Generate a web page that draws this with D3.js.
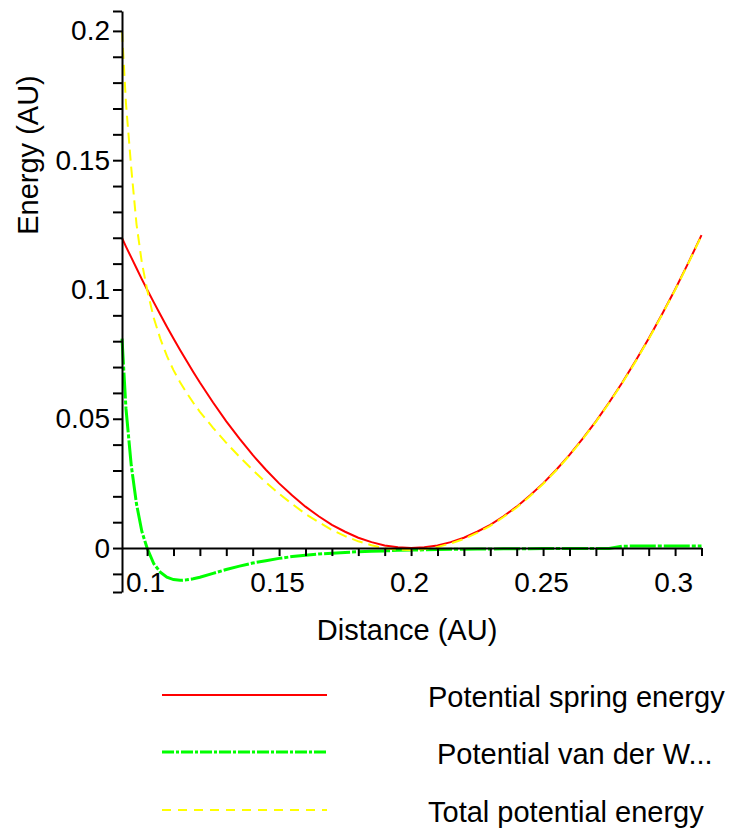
<!DOCTYPE html>
<html>
<head>
<meta charset="utf-8">
<script src="https://cdn.jsdelivr.net/npm/d3@7"></script>
<style>
  html, body { margin: 0; padding: 0; background: #fff; }
  svg { display: block; }
  text { font-family: "Liberation Sans", Arial, sans-serif; fill: #000; }
</style>
</head>
<body>
<svg id="chart" width="731" height="832"></svg>
<script>
// ---- data ----
const distance = [0.0905, 0.092, 0.094, 0.096, 0.098, 0.100, 0.1025, 0.105, 0.1075, 0.110, 0.1125, 0.115, 0.1175, 0.120,
  0.125, 0.130, 0.135, 0.140, 0.145, 0.150, 0.155, 0.160, 0.165, 0.170, 0.175, 0.180, 0.185, 0.190, 0.195, 0.200,
  0.205, 0.210, 0.215, 0.220, 0.225, 0.230, 0.235, 0.240, 0.245, 0.250, 0.255, 0.260, 0.265, 0.270, 0.275, 0.280,
  0.285, 0.290, 0.295, 0.300, 0.305, 0.310];

const springEnergy = [0.1199, 0.1166, 0.1124, 0.1082, 0.1040, 0.1000, 0.0951, 0.0903, 0.0856, 0.0810, 0.0766, 0.0723, 0.0681, 0.0640,
  0.0563, 0.0490, 0.0423, 0.0360, 0.0303, 0.0250, 0.0203, 0.0160, 0.0123, 0.0090, 0.0063, 0.0040, 0.0023, 0.0010, 0.0003, 0.0000,
  0.0003, 0.0010, 0.0023, 0.0040, 0.0063, 0.0090, 0.0123, 0.0160, 0.0203, 0.0250, 0.0303, 0.0360, 0.0423, 0.0490, 0.0563, 0.0640,
  0.0723, 0.0810, 0.0903, 0.1000, 0.1103, 0.1210];

const vdwEnergy = [0.0810, 0.0540, 0.0320, 0.0170, 0.0065, 0.0000, -0.0060, -0.0093, -0.0113, -0.0122, -0.0125, -0.0123, -0.0119, -0.0113,
  -0.0098, -0.0083, -0.0070, -0.0058, -0.0049, -0.0040, -0.0033, -0.0028, -0.0023, -0.0020, -0.0017, -0.0014, -0.0012, -0.0011, -0.0009, -0.0008,
  -0.0007, -0.0006, -0.0005, -0.0005, -0.0004, -0.0004, -0.0003, -0.0003, -0.0003, -0.0002, -0.0002, -0.0002, -0.0002, -0.0002, -0.0002, 0.0007,
  0.0008, 0.0008, 0.0008, 0.0008, 0.0008, 0.0008];

const totalEnergy = [0.2000, 0.1720, 0.1470, 0.1252, 0.1105, 0.1000, 0.0891, 0.0810, 0.0743, 0.0688, 0.0641, 0.0600, 0.0562, 0.0527,
  0.0465, 0.0407, 0.0353, 0.0302, 0.0254, 0.0210, 0.0170, 0.0132, 0.0100, 0.0070, 0.0046, 0.0026, 0.0011, -0.0001, -0.0006, -0.0008,
  -0.0004, 0.0004, 0.0018, 0.0035, 0.0059, 0.0086, 0.0120, 0.0157, 0.0200, 0.0248, 0.0301, 0.0358, 0.0421, 0.0488, 0.0561, 0.0638,
  0.0721, 0.0808, 0.0901, 0.0998, 0.1101, 0.1208];

const seriesNames = ["Potential spring energy", "Potential van der W...", "Total potential energy"];
const xTickLabels = [0.1, 0.15, 0.2, 0.25, 0.3];
const yTickLabels = [0, 0.05, 0.1, 0.15, 0.2];
const xRange = [0.0905, 0.31];
const yRange = [-0.017, 0.2077];

// ---- drawing ----
const svg = d3.select("#chart");
const x = d3.scaleLinear().domain(xRange).range([122, 701.5]);
const y = d3.scaleLinear().domain(yRange).range([592, 11]);

const FS = 28;
const fmt = d => String(d);

const round = v => Math.round(v * 1000) / 1000;
const xMinor = d3.range(10, 32).map(i => round(i / 100));
const yMinor = d3.range(-1, 21).map(i => round(i / 100)).concat([yRange[0], yRange[1]]);

const lines = [
  { vals: springEnergy, color: "#ff0000", width: 2, dash: null, legendDash: null },
  { vals: vdwEnergy, color: "#00ff00", width: 3, dash: "26,2,4,2", legendDash: "12,2,3,2" },
  { vals: totalEnergy, color: "#ffff00", width: 2, dash: "11,6", legendDash: "9,7" }
];

const lineGen = d3.line().x((d, i) => x(distance[i])).y(d => y(d));

lines.forEach(s => {
  svg.append("path")
    .attr("d", lineGen(s.vals))
    .attr("fill", "none")
    .attr("stroke", s.color)
    .attr("stroke-width", s.width)
    .attr("stroke-dasharray", s.dash);
});

// y axis
const yAxis = d3.axisLeft(y)
  .tickValues(yMinor)
  .tickSize(9)
  .tickSizeOuter(0)
  .tickPadding(3)
  .tickFormat(d => yTickLabels.some(t => Math.abs(t - d) < 1e-9) ? fmt(d) : "");
const gy = svg.append("g").attr("transform", `translate(${x(xRange[0])},0)`).call(yAxis);

// x axis
const xAxis = d3.axisBottom(x)
  .tickValues(xMinor)
  .tickSize(8)
  .tickSizeOuter(0)
  .tickPadding(16)
  .tickFormat(d => xTickLabels.some(t => Math.abs(t - d) < 1e-9) ? fmt(d) : "");
const gx = svg.append("g").attr("transform", `translate(0,${y(0)})`).call(xAxis);

[gx, gy].forEach(g => {
  g.select(".domain").attr("stroke", "#000").attr("stroke-width", 2);
  g.selectAll(".tick line").attr("stroke", "#000").attr("stroke-width", 2);
  g.selectAll(".tick text").attr("font-size", FS).attr("font-family", "'Liberation Sans', Arial, sans-serif").attr("fill", "#000");
});
gx.selectAll(".tick text").attr("dx", -2);

// axis titles
svg.append("text")
  .attr("x", x(0.2) - 4).attr("y", 640)
  .attr("text-anchor", "middle")
  .attr("font-size", 29)
  .text("Distance (AU)");

svg.append("text")
  .attr("transform", `translate(38,155) rotate(-90)`)
  .attr("text-anchor", "middle")
  .attr("font-size", 29)
  .text("Energy (AU)");

// legend
const legendY = [695, 752, 810];
const legendTextX = [428, 437, 428];
lines.forEach((s, i) => {
  svg.append("line")
    .attr("x1", 162).attr("x2", 327)
    .attr("y1", legendY[i]).attr("y2", legendY[i])
    .attr("stroke", s.color)
    .attr("stroke-width", s.width)
    .attr("stroke-dasharray", s.legendDash);
  svg.append("text")
    .attr("x", legendTextX[i]).attr("y", legendY[i] + 12)
    .attr("font-size", 29)
    .text(seriesNames[i]);
});
</script>
</body>
</html>
